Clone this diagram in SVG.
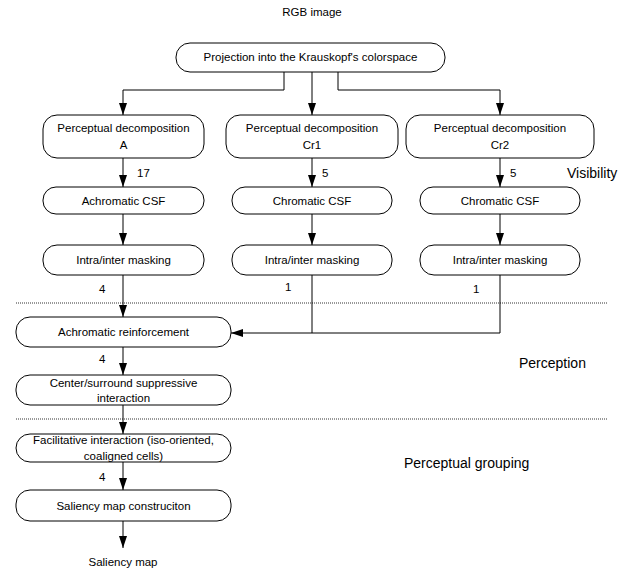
<svg xmlns="http://www.w3.org/2000/svg" width="619" height="571" viewBox="0 0 619 571">
<defs>
<marker id="ah" markerWidth="12" markerHeight="8" refX="12" refY="4" orient="auto" markerUnits="userSpaceOnUse">
<path d="M0,0 L12,4 L0,8 z" fill="#000"/>
</marker>
<style>
.box{fill:#fff;stroke:#000;stroke-width:1}
.t{font-family:"Liberation Sans",Arial,sans-serif;font-size:11.5px;fill:#000;text-anchor:middle}
.l{font-family:"Liberation Sans",Arial,sans-serif;font-size:11.5px;fill:#000}
.big{font-family:"Liberation Sans",Arial,sans-serif;font-size:14px;fill:#000}
.c{fill:none;stroke:#000;stroke-width:1;marker-end:url(#ah)}
.cn{fill:none;stroke:#000;stroke-width:1}
.dot{stroke:#333;stroke-width:1;stroke-dasharray:1,1}
</style>
</defs>
<rect width="619" height="571" fill="#fff"/>
<text class="t" x="312" y="16">RGB image</text>
<g id="sep">
<line class="dot" x1="16" y1="303" x2="608" y2="303"/>
<line class="dot" x1="16" y1="419" x2="608" y2="419"/>
</g>
<g id="connectors">
<path class="c" d="M284,72 V90 H123 V115"/>
<path class="c" d="M312,72 V115"/>
<path class="c" d="M338,72 V90 H500 V115"/>
<path class="c" d="M123,158 V187"/>
<path class="c" d="M312,158 V187"/>
<path class="c" d="M500,158 V187"/>
<path class="c" d="M123,214 V245"/>
<path class="c" d="M312,214 V245"/>
<path class="c" d="M500,214 V245"/>
<path class="c" d="M123,275 V317"/>
<path class="cn" d="M312,275 V333"/>
<path class="c" d="M500,275 V333 H231"/>
<path class="c" d="M123,347 V375"/>
<path class="c" d="M123,405 V434"/>
<path class="c" d="M123,462 V490"/>
<path class="c" d="M123,521 V548"/>
<text class="l" x="137" y="177">17</text>
<text class="l" x="322" y="177">5</text>
<text class="l" x="510" y="177">5</text>
<text class="l" x="99" y="293">4</text>
<text class="l" x="285" y="291">1</text>
<text class="l" x="473" y="293">1</text>
<text class="l" x="99" y="363">4</text>
<text class="l" x="99" y="481">4</text>
</g>
<g id="projection"><rect class="box" x="176" y="43" width="269" height="29" rx="14"/><text class="t" x="310.5" y="61">Projection into the Krauskopf's colorspace</text></g>
<g id="decompA"><rect class="box" x="43" y="115" width="161" height="43" rx="14"/><text class="t" x="123.5" y="132">Perceptual decomposition</text><text class="t" x="123.5" y="149">A</text></g>
<g id="decompCr1"><rect class="box" x="226" y="115" width="172" height="43" rx="14"/><text class="t" x="312" y="132">Perceptual decomposition</text><text class="t" x="312" y="149">Cr1</text></g>
<g id="decompCr2"><rect class="box" x="406" y="115" width="188" height="43" rx="14"/><text class="t" x="500" y="132">Perceptual decomposition</text><text class="t" x="500" y="149">Cr2</text></g>
<g id="csfA"><rect class="box" x="43" y="187" width="161" height="27" rx="13"/><text class="t" x="123.5" y="205">Achromatic CSF</text></g>
<g id="csfCr1"><rect class="box" x="232" y="187" width="160" height="27" rx="13"/><text class="t" x="312" y="205">Chromatic CSF</text></g>
<g id="csfCr2"><rect class="box" x="420" y="187" width="160" height="27" rx="13"/><text class="t" x="500" y="205">Chromatic CSF</text></g>
<g id="maskA"><rect class="box" x="43" y="245" width="161" height="30" rx="14"/><text class="t" x="123.5" y="264">Intra/inter masking</text></g>
<g id="maskCr1"><rect class="box" x="232" y="245" width="160" height="30" rx="14"/><text class="t" x="312" y="264">Intra/inter masking</text></g>
<g id="maskCr2"><rect class="box" x="420" y="245" width="160" height="30" rx="14"/><text class="t" x="500" y="264">Intra/inter masking</text></g>
<g id="reinforcement"><rect class="box" x="16" y="317" width="215" height="30" rx="14"/><text class="t" x="123.5" y="336">Achromatic reinforcement</text></g>
<g id="centersurround"><rect class="box" x="16" y="375" width="215" height="30" rx="14"/><text class="t" x="123.5" y="387">Center/surround suppressive</text><text class="t" x="123.5" y="402">interaction</text></g>
<g id="facilitative"><rect class="box" x="16" y="434" width="215" height="28" rx="14"/><text class="t" x="123.5" y="444">Facilitative interaction (iso-oriented,</text><text class="t" x="123.5" y="460">coaligned cells)</text></g>
<g id="saliencyconstr"><rect class="box" x="16" y="490" width="215" height="31" rx="14"/><text class="t" x="123.5" y="510">Saliency map construciton</text></g>
<text class="t" x="123" y="566">Saliency map</text>
<text class="big" x="567" y="178">Visibility</text>
<text class="big" x="519" y="368">Perception</text>
<text class="big" x="404" y="468">Perceptual grouping</text>
</svg>
